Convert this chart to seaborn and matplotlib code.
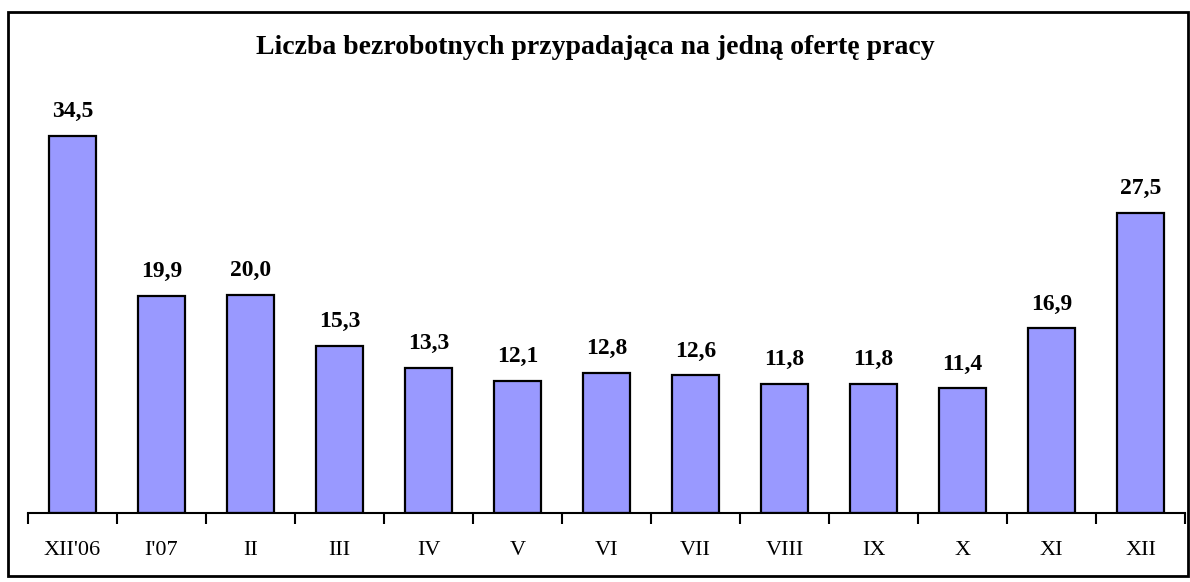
import pandas as pd
import seaborn as sns
import matplotlib.pyplot as plt
from matplotlib.patches import Rectangle

months = ["XII'06", "I'07", "II", "III", "IV", "V", "VI", "VII", "VIII", "IX", "X", "XI", "XII"]
values = [34.5, 19.9, 20.0, 15.3, 13.3, 12.1, 12.8, 12.6, 11.8, 11.8, 11.4, 16.9, 27.5]

df = pd.DataFrame({'miesiac': months, 'wartosc': values})

sns.set_style('white')
plt.rcParams['font.family'] = ['Liberation Serif', 'DejaVu Serif']
plt.rcParams['text.color'] = 'black'
plt.rcParams['xtick.color'] = 'black'

fig = plt.figure(figsize=(11.9, 5.82), dpi=100)
ax = fig.add_axes([28 / 1190, 69 / 582, 1157 / 1190, 1 - 69 / 582 - 76 / 582])

sns.barplot(x='miesiac', y='wartosc', data=df, color='#9999FF', edgecolor='black',
            linewidth=1.6, width=0.52, saturation=1, ax=ax)

for i, v in enumerate(values):
    ax.annotate(f'{v:.1f}'.replace('.', ','), (i, v), xytext=(0, 10), textcoords='offset points',
                ha='center', va='bottom', fontsize=17, fontweight='bold', color='black')

ax.set_xlim(-0.5, len(months) - 0.5)
ax.set_ylim(0, 40)
ax.set_xlabel('')
ax.set_ylabel('')
ax.set_yticks([])
ax.set_xticks([i - 0.5 for i in range(len(months) + 1)], minor=False)
ax.set_xticklabels([])
ax.set_xticks(range(len(months)), minor=True)
ax.set_xticklabels(months, minor=True, fontsize=16, color='black')
ax.tick_params(axis='x', which='major', direction='out', length=8, width=1.5, color='black', bottom=True)
ax.tick_params(axis='x', which='minor', length=0, pad=20)
for s in ['top', 'right', 'left']:
    ax.spines[s].set_visible(False)
ax.spines['bottom'].set_color('black')
ax.spines['bottom'].set_linewidth(1.5)

fig.text(0.5, 1 - 47 / 582, 'Liczba bezrobotnych przypadająca na jedną ofertę pracy',
         ha='center', va='center', fontsize=20, fontweight='bold', color='black')

fig.patches.append(Rectangle((8 / 1190, 6 / 582), 1180 / 1190, 564 / 582, transform=fig.transFigure,
                             fill=False, edgecolor='black', linewidth=2))

fig.savefig('out.png', dpi=100)
